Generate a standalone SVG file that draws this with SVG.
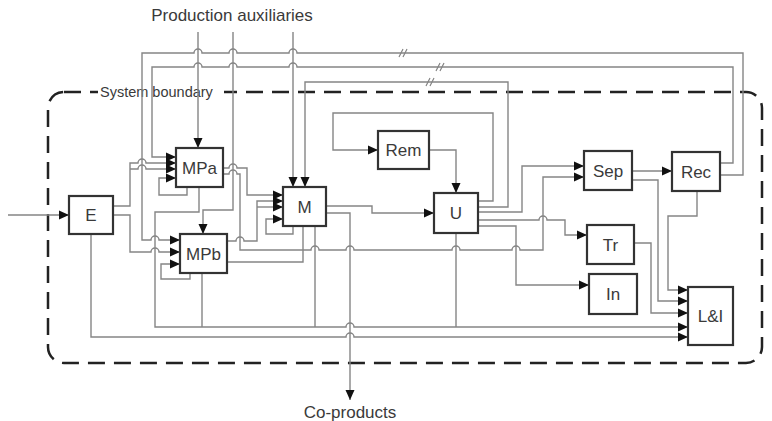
<svg xmlns="http://www.w3.org/2000/svg" width="772" height="421" viewBox="0 0 772 421">
<style>
.c{fill:none;stroke:#858585;stroke-width:1.4}
.b rect{fill:#fff;stroke:#333;stroke-width:2.2}
.t{font-family:"Liberation Sans",Arial,sans-serif;fill:#3a3a3a}
.bl{font-size:17px;text-anchor:middle}
.sl{stroke:#858585;stroke-width:1.2}
</style>
<defs>
<marker id="a" markerUnits="userSpaceOnUse" markerWidth="11" markerHeight="10" refX="10" refY="5" orient="auto">
<path d="M0,0.5 L10,5 L0,9.5 z" fill="#111"/>
</marker>
</defs>
<rect x="48" y="92" width="714" height="271" rx="16" fill="none" stroke="#222" stroke-width="2.5" stroke-dasharray="17 9"/>
<rect x="98" y="84" width="126" height="16" fill="#fff"/>
<text class="t" x="100" y="97" font-size="14.5">System boundary</text>
<text class="t" x="232" y="21" font-size="17" text-anchor="middle">Production auxiliaries</text>
<text class="t" x="350" y="418" font-size="17" text-anchor="middle">Co-products</text>
<g id="connectors">
<path class="c" marker-end="url(#a)" d="M8,215 H69"/>
<path class="c" marker-end="url(#a)" d="M198,32 V148"/>
<path class="c" marker-end="url(#a)" d="M233,32 V210 H203 V234"/>
<path class="c" marker-end="url(#a)" d="M293,32 V187"/>
<path class="c" marker-end="url(#a)" d="M720,163 H733 V67 H297 a4,4 0 0 0 -8,0 H237 a4,4 0 0 0 -8,0 H202 a4,4 0 0 0 -8,0 H152 V157 H176"/>
<path class="c" marker-end="url(#a)" d="M720,175 H743 V53 H297 a4,4 0 0 0 -8,0 H237 a4,4 0 0 0 -8,0 H202 a4,4 0 0 0 -8,0 H142 V240 H151 a4,4 0 0 1 8,0 H180"/>
<path class="c" marker-end="url(#a)" d="M478,207 H508 V82 H305 V187"/>
<path class="c" marker-end="url(#a)" d="M478,201 H493 V113 H333 V150 H378"/>
<path class="c" marker-end="url(#a)" d="M429,150 H456 V193"/>
<path class="c" marker-end="url(#a)" d="M326,206 H372 V213 H434"/>
<path class="c" marker-end="url(#a)" d="M326,213 H350 V400"/>
<path class="c" marker-end="url(#a)" d="M478,212 H522 V166 H584"/>
<path class="c" marker-end="url(#a)" d="M478,220 H539 a4,4 0 0 1 8,0 H565 V235 H587"/>
<path class="c" marker-end="url(#a)" d="M478,226 H516 V285 H589"/>
<path class="c" marker-end="url(#a)" d="M223,174 H229 a4,4 0 0 1 8,0 H240 V250 H311 a4,4 0 0 1 8,0 H346 a4,4 0 0 1 8,0 H452 a4,4 0 0 1 8,0 H512 a4,4 0 0 1 8,0 H543 V177 H584"/>
<path class="c" marker-end="url(#a)" d="M223,168 H229 a4,4 0 0 1 8,0 H247 V195 H283"/>
<path class="c" marker-end="url(#a)" d="M227,241 H236 a4,4 0 0 1 8,0 H257 V201 H283"/>
<path class="c" marker-end="url(#a)" d="M257,207 H283"/>
<path class="c" d="M227,262 H303 V226"/>
<path class="c" marker-end="url(#a)" d="M293,226 V234 H266 V219 H283"/>
<path class="c" marker-end="url(#a)" d="M187,187 V195 H159 V178 H176"/>
<path class="c" marker-end="url(#a)" d="M190,273 V279 H161 V264 H180"/>
<path class="c" marker-end="url(#a)" d="M113,206 H130 V163 H138 a4,4 0 0 1 8,0 H176"/>
<path class="c" marker-end="url(#a)" d="M130,169 H138 a4,4 0 0 1 8,0 H176"/>
<path class="c" marker-end="url(#a)" d="M113,215 H130 V252 H151 a4,4 0 0 1 8,0 H180"/>
<path class="c" marker-end="url(#a)" d="M199,187 V212 H155 V327 H346 a4,4 0 0 1 8,0 H688"/>
<path class="c" d="M202,273 V327 M315,226 V327 M456,233 V327"/>
<path class="c" marker-end="url(#a)" d="M91,234 V337 H346 a4,4 0 0 1 8,0 H688"/>
<path class="c" marker-end="url(#a)" d="M632,171 H672"/>
<path class="c" marker-end="url(#a)" d="M632,180 H658 V301 H688"/>
<path class="c" marker-end="url(#a)" d="M697,191 V216 H668 V290 H688"/>
<path class="c" marker-end="url(#a)" d="M634,243 H651 V313 H688"/>
<path class="sl" d="M399,57 L403,49 M403,57 L407,49 M436,71 L440,63 M440,71 L444,63 M426,86 L430,78 M430,86 L434,78"/>
</g>
<g id="E" class="b"><rect x="69" y="196" width="44" height="38"/><text class="t bl" x="91" y="221">E</text></g>
<g id="MPa" class="b"><rect x="176" y="148" width="47" height="39"/><text class="t bl" x="199.5" y="173.5">MPa</text></g>
<g id="MPb" class="b"><rect x="180" y="234" width="47" height="39"/><text class="t bl" x="203.5" y="259.5">MPb</text></g>
<g id="M" class="b"><rect x="283" y="187" width="43" height="39"/><text class="t bl" x="304.5" y="212.5">M</text></g>
<g id="Rem" class="b"><rect x="378" y="131" width="51" height="38"/><text class="t bl" x="403.5" y="156">Rem</text></g>
<g id="U" class="b"><rect x="434" y="193" width="44" height="40"/><text class="t bl" x="456" y="219">U</text></g>
<g id="Sep" class="b"><rect x="584" y="151" width="48" height="39"/><text class="t bl" x="608" y="176.5">Sep</text></g>
<g id="Rec" class="b"><rect x="672" y="152" width="48" height="39"/><text class="t bl" x="696" y="177.5">Rec</text></g>
<g id="Tr" class="b"><rect x="587" y="225" width="47" height="39"/><text class="t bl" x="610.5" y="250.5">Tr</text></g>
<g id="In" class="b"><rect x="589" y="274" width="48" height="40"/><text class="t bl" x="613" y="300">In</text></g>
<g id="LI" class="b"><rect x="688" y="287" width="45" height="58"/><text class="t bl" x="710.5" y="322">L&amp;I</text></g>
</svg>
